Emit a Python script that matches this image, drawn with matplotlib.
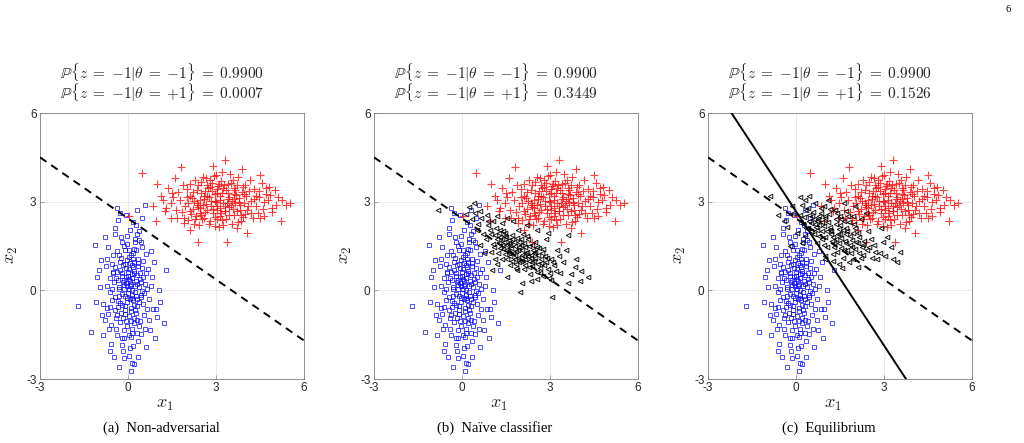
import numpy as np
import matplotlib.pyplot as plt

plt.rcParams['mathtext.fontset'] = 'cm'

# class theta=-1 samples (blue squares)
blue_pts = np.array([
    (-0.12, 0.35), (0.21, -0.48), (0.05, 1.12), (-0.38, 0.62), (0.44, -0.15), (-0.07, -1.03), (0.16, 0.78), (-0.55, -0.32),
    (0.31, 0.51), (-0.22, 1.64), (0.09, -0.71), (-0.41, -0.95), (0.58, 0.22), (0.02, 0.03), (-0.15, -1.62), (0.27, 1.38),
    (-0.63, 0.41), (0.12, -0.25), (0.36, -1.21), (-0.29, 0.12), (0.07, 2.05), (-0.09, 0.88), (0.49, 0.74), (-0.33, -0.58),
    (0.18, -1.88), (-0.71, 1.05), (0.25, 0.15), (-0.04, -0.39), (0.66, -0.62), (-0.46, 1.92), (0.13, 0.55), (-0.19, -0.11),
    (0.38, 1.71), (-0.58, -1.17), (0.03, -2.21), (0.52, 0.98), (-0.27, 0.69), (0.19, -0.92), (-0.11, 1.35), (0.72, -0.28),
    (-0.84, -0.45), (0.08, 0.31), (-0.35, 2.38), (0.29, -0.54), (-0.02, 1.58), (0.45, -1.48), (-0.24, -0.78), (0.14, 0.02),
    (-0.49, 0.27), (0.33, 0.91), (-0.14, -1.35), (0.61, 1.22), (-0.67, -0.81), (0.04, 0.71), (0.23, -0.05), (-0.31, 1.21),
    (0.11, -1.58), (-0.08, 0.46), (0.54, -0.84), (-0.43, -0.22), (0.26, 2.21), (-0.18, -2.05), (0.41, 0.38), (-0.76, 0.83),
    (0.06, -0.31), (-0.26, 0.95), (0.35, -1.72), (-0.05, 1.85), (0.82, 0.45), (-0.37, -1.51), (0.17, 1.05), (-0.61, -0.05),
    (0.28, -0.18), (-0.13, 0.18), (0.47, 1.48), (-0.52, 0.58), (0.02, -0.88), (0.39, -0.41), (-0.21, -1.85), (0.15, 0.42),
    (-0.95, 0.12), (0.64, 0.05), (-0.06, 2.55), (0.22, -1.12), (-0.44, -0.66), (0.31, 1.91), (-0.17, 0.28), (0.09, -0.59),
    (-0.34, -0.37), (0.57, -1.31), (-0.02, 1.02), (0.19, 0.65), (-0.69, 1.48), (0.44, 0.28), (-0.28, -1.08), (0.12, -2.45),
    (0.85, -0.62), (-0.45, 0.78), (0.07, 0.16), (-0.11, -0.52), (0.34, 0.82), (-0.58, -1.82), (0.24, 1.62), (-0.03, -1.21),
    (0.48, -0.02), (-0.22, 0.49), (0.13, -1.45), (-0.8, -1.02), (0.37, 2.01), (-0.09, -0.18), (0.69, 0.71), (-0.39, 1.32),
    (0.01, 0.62), (0.26, -0.75), (-0.53, 0.05), (0.16, 1.28), (-0.16, -0.95), (0.43, -0.22), (-0.72, -0.61), (0.08, 0.92),
    (-1.7, -0.52), (1.28, 0.68), (1.22, -1.12), (0.1, -2.72), (0.58, 2.88), (0.32, 2.72), (-1.12, 1.52), (-1.25, -1.42),
    (0.92, -1.62), (-0.28, 2.61), (-0.48, -2.25), (0.78, 1.32), (-1.05, 0.45), (1.05, 0.02), (-0.85, -1.52), (0.35, -2.25),
    (-0.38, 2.8), (0.95, -0.62), (-0.92, 1.02), (0.62, -1.92), (-0.62, -2.05), (1.08, -0.38), (0.2, -2.5), (-1.08, -0.38),
    (0.04, 0.38), (-0.32, 0.04), (0.18, -0.32), (-0.07, 0.75), (0.29, 0.21), (-0.2, -0.48), (0.11, 1.18), (-0.42, 0.42),
    (0.22, 0.58), (-0.1, -0.68), (0.5, 0.45), (-0.25, 1.1), (0.0, -0.1), (0.3, -1.0), (-0.55, 0.9), (0.15, -1.3),
    (0.1, 0.2), (-0.2, 0.6), (0.3, -0.3), (-0.1, -0.8), (0.2, 1.4), (-0.3, -0.2), (0.4, 0.6), (-0.5, 1.2),
    (0.0, 0.5), (0.25, -0.65), (-0.15, 0.05), (0.35, 1.05), (-0.4, -1.3), (0.05, -1.5), (0.5, -0.45), (-0.25, 1.8),
    (0.12, 0.85), (-0.35, 0.35), (0.28, 0.32), (-0.05, -0.25), (0.42, -1.05), (-0.6, -0.55), (0.18, 2.3), (-0.12, 1.5),
    (0.6, 0.6), (-0.7, 0.15), (0.08, -1.95), (-0.22, -1.6), (0.45, 1.62), (-0.02, 0.15), (0.32, -1.45), (-0.45, 2.1),
    (0.15, -0.15), (-0.18, 0.85), (0.55, -0.08), (-0.38, -0.85), (0.05, 1.35), (0.22, 0.95), (-0.28, -0.42), (0.7, -1.0),
    (-0.08, 0.25), (0.38, 0.12), (-0.5, 0.62), (0.1, -1.05), (-0.15, -2.3), (0.48, 2.45), (-0.65, -1.3), (0.25, 1.75),
    (0.9, 0.95), (-0.9, -0.85), (0.75, -1.35), (-0.78, 1.8), (1.0, -0.9), (-1.0, 0.7), (0.8, 0.15), (-0.3, -2.6),
])

# class theta=+1 samples (red pluses)
red_pts = np.array([
    (3.12, 3.05), (2.45, 2.78), (3.68, 3.21), (2.91, 2.62), (3.35, 3.38), (2.18, 3.12), (3.82, 2.88), (2.72, 3.45),
    (4.21, 3.02), (1.95, 2.85), (3.05, 2.42), (3.51, 3.62), (2.58, 3.18), (4.48, 3.15), (2.33, 2.51), (3.24, 2.95),
    (1.72, 3.32), (3.92, 3.48), (2.84, 3.02), (3.61, 2.55), (2.05, 2.38), (4.05, 2.72), (3.18, 3.71), (2.66, 2.92),
    (1.45, 2.95), (3.45, 2.81), (4.62, 2.98), (2.38, 3.55), (3.02, 3.28), (3.78, 3.12), (2.12, 2.7), (4.31, 3.42),
    (2.95, 2.18), (3.28, 3.55), (1.88, 3.58), (2.52, 2.41), (4.85, 3.22), (3.65, 2.95), (2.78, 3.75), (3.98, 2.58),
    (1.25, 2.68), (3.42, 3.08), (2.62, 2.65), (4.15, 3.75), (2.25, 3.02), (3.85, 2.35), (3.15, 2.78), (2.48, 3.28),
    (5.05, 2.88), (2.88, 3.35), (3.55, 2.25), (1.62, 2.72), (3.72, 3.58), (2.35, 2.95), (4.42, 2.62), (3.08, 3.52),
    (2.02, 3.42), (3.32, 2.68), (4.72, 3.45), (2.75, 2.25), (3.88, 3.32), (1.55, 3.15), (2.92, 3.88), (4.25, 2.45),
    (3.48, 3.95), (2.15, 2.58), (3.95, 2.95), (2.68, 3.58), (5.25, 3.05), (3.22, 2.38), (1.92, 2.28), (4.58, 3.62),
    (2.55, 3.85), (3.62, 3.25), (1.35, 3.45), (3.05, 2.72), (4.02, 3.18), (2.42, 2.22), (3.38, 2.95), (4.92, 2.65),
    (0.48, 3.97), (0.05, 2.52), (2.4, 1.62), (3.38, 1.62), (3.3, 4.42), (1.82, 4.18), (5.52, 2.95), (5.2, 2.35),
    (1.0, 3.6), (0.85, 2.85), (0.95, 2.35), (2.9, 4.2), (3.9, 4.1), (4.05, 1.95), (2.1, 2.05), (5.4, 2.9),
    (2.82, 2.85), (3.15, 3.18), (2.6, 3.1), (3.55, 3.02), (2.98, 3.02), (3.3, 2.85), (2.7, 2.72), (3.4, 3.3),
    (1.12, 3.2), (4.65, 2.52), (3.75, 3.85), (2.28, 3.72), (4.35, 2.85), (1.68, 2.45), (3.1, 2.15), (2.85, 3.62),
    (3.58, 2.75), (2.2, 3.32), (4.12, 3.35), (2.5, 2.55), (3.02, 3.42), (3.92, 2.48), (1.78, 3.05), (4.78, 3.05),
    (2.38, 2.82), (3.25, 3.45), (2.95, 2.48), (3.65, 3.4), (2.12, 3.2), (4.28, 3.08), (2.62, 3.35), (3.45, 2.55),
    (1.45, 2.45), (3.82, 2.72), (2.75, 3.15), (4.45, 3.35), (2.05, 2.95), (3.18, 2.6), (3.58, 3.75), (2.45, 3.05),
    (5.0, 3.4), (1.2, 3.05), (2.3, 2.4), (4.9, 2.8), (3.0, 3.9), (3.7, 2.1), (1.6, 3.8), (4.5, 3.9),
    (3.0, 3.0), (2.7, 3.2), (3.3, 2.7), (3.6, 3.1), (2.4, 2.9), (3.2, 3.3), (2.9, 2.75), (3.5, 2.9),
    (2.6, 2.45), (3.8, 3.0), (2.2, 2.75), (4.1, 2.85), (3.1, 3.6), (2.8, 2.35), (3.95, 3.25), (2.35, 3.4),
    (3.45, 3.15), (2.55, 2.9), (3.15, 2.5), (4.35, 3.2), (1.85, 2.65), (3.7, 2.7), (2.95, 3.25), (4.6, 2.75),
    (2.0, 3.15), (3.25, 2.2), (4.0, 3.55), (2.65, 3.8), (3.85, 2.55), (1.5, 3.3), (4.7, 3.25), (3.4, 3.6),
    (2.45, 2.6), (3.05, 2.85), (3.6, 3.45), (2.25, 2.25), (4.2, 2.6), (2.8, 3.5), (3.35, 2.4), (5.1, 3.15),
    (1.3, 2.8), (4.5, 2.45), (2.1, 3.6), (3.75, 2.3), (2.5, 3.65), (4.8, 3.5), (1.9, 2.45), (3.2, 4.0),
])

# adversarially modified samples, naive classifier (black triangles)
adv_naive = np.array([
    (1.85, 1.32), (1.42, 1.65), (2.35, 1.08), (1.12, 1.88), (2.68, 0.92), (1.65, 1.15), (2.15, 1.45), (0.95, 2.05),
    (2.92, 0.72), (1.55, 1.52), (2.45, 1.28), (1.28, 1.42), (3.15, 0.85), (1.95, 0.95), (2.25, 1.72), (0.82, 1.75),
    (2.55, 0.62), (1.72, 1.88), (2.05, 1.18), (1.38, 1.05), (2.82, 1.15), (1.05, 1.58), (2.38, 0.82), (1.78, 1.62),
    (3.35, 0.58), (1.48, 1.95), (2.12, 0.72), (1.22, 1.25), (2.62, 1.42), (0.88, 2.22), (1.92, 1.38), (2.75, 0.48),
    (1.62, 0.85), (2.48, 1.62), (1.15, 2.12), (3.05, 1.05), (1.82, 1.05), (2.28, 0.98), (1.35, 1.72), (2.95, 0.42),
    (0.72, 1.92), (2.02, 1.55), (1.58, 1.32), (2.65, 0.75), (1.25, 1.95), (3.45, 0.95), (1.88, 0.68), (2.18, 1.25),
    (0.65, 2.45), (0.45, 2.62), (0.25, 2.82), (0.85, 2.55), (1.05, 2.35), (0.55, 2.25), (1.35, 2.28), (0.35, 2.42),
    (-0.82, 2.72), (1.98, -0.05), (3.08, -0.22), (4.28, 0.45), (3.62, 1.88), (3.72, 0.55), (4.05, 0.65), (3.88, 1.05),
    (1.02, 0.68), (2.55, 2.05), (3.25, 1.35), (1.75, 2.35), (2.85, 1.72), (0.62, 1.55), (3.55, 1.35), (1.55, 0.45),
    (2.08, 1.92), (1.68, 1.42), (2.42, 1.38), (1.45, 1.22), (2.32, 0.55), (1.12, 1.05), (2.72, 1.25), (1.88, 1.78),
    (2.0, 1.0), (1.6, 1.6), (2.5, 1.1), (1.3, 1.8), (2.2, 1.3), (1.8, 1.2), (2.6, 0.9), (1.4, 1.4),
    (4.02, 0.32), (2.05, 0.25), (3.02, 0.35), (1.18, 0.88), (3.85, 0.78), (0.52, 2.05), (2.92, 1.95), (3.32, 1.15),
    (0.12, 2.58), (0.42, 2.95), (1.52, 2.45), (2.2, 2.2), (0.75, 1.25), (3.6, 0.25), (2.35, 0.3), (1.9, 2.05),
    (1.7, 1.0), (2.1, 1.6), (1.5, 1.8), (2.4, 0.95), (1.95, 1.45), (2.7, 1.05), (1.25, 1.6), (2.3, 1.5),
    (3.0, 0.6), (1.0, 1.9), (2.85, 0.95), (1.6, 1.25), (2.15, 0.85), (1.4, 2.0), (2.55, 1.45), (1.85, 0.9),
    (1.75, 1.25), (2.05, 1.35), (1.65, 1.55), (2.25, 1.15), (1.95, 1.65), (2.45, 1.0), (1.5, 1.35), (2.15, 1.05),
    (1.8, 1.5), (2.35, 1.2), (1.35, 1.55), (2.6, 1.2), (1.55, 1.05), (2.0, 1.75), (2.8, 0.85), (1.2, 1.75),
    (1.9, 1.1), (2.5, 1.3), (1.45, 1.85), (2.3, 0.8), (1.7, 1.75), (2.9, 1.1), (1.1, 1.45), (2.65, 0.6),
    (2.1, 1.15), (1.6, 1.7), (2.4, 1.55), (1.3, 2.05), (2.75, 1.4), (3.1, 0.95), (1.85, 0.75), (2.2, 1.85),
    (0.9, 2.35), (0.6, 2.7), (1.2, 2.5), (3.2, 0.65), (2.55, 0.4), (1.0, 1.3),
])

# adversarially modified samples at equilibrium (black triangles)
adv_eq = np.array([
    (1.15, 2.05), (0.72, 2.35), (1.55, 1.78), (0.45, 2.55), (1.85, 1.52), (0.95, 2.18), (1.38, 2.42), (0.62, 1.92),
    (1.72, 2.12), (0.35, 2.72), (2.05, 1.62), (1.22, 1.68), (0.85, 2.62), (1.62, 2.35), (0.52, 2.28), (1.95, 1.95),
    (1.05, 1.45), (1.45, 2.08), (0.28, 2.48), (2.25, 1.45), (0.78, 1.85), (1.32, 2.72), (1.88, 1.25), (0.58, 2.65),
    (1.68, 1.68), (0.98, 2.45), (2.15, 1.82), (0.42, 2.12), (1.25, 1.22), (1.78, 2.52), (0.68, 2.15), (2.42, 1.35),
    (1.52, 1.42), (0.88, 1.72), (1.98, 2.25), (0.15, 2.55), (1.42, 1.92), (2.32, 1.68), (0.75, 2.42), (1.12, 2.58),
    (-0.89, 3.19), (0.12, 3.16), (0.3, 3.05), (3.45, 0.96), (1.58, 0.75), (2.1, 0.8), (2.0, 2.85), (2.4, 2.6),
    (2.65, 1.52), (2.85, 1.25), (3.05, 1.15), (3.25, 1.45), (2.75, 1.05), (3.3, 1.05), (2.55, 1.75), (2.95, 1.65),
    (-0.3, 2.15), (-0.1, 2.6), (-0.42, 2.35), (0.05, 1.95), (-0.2, 1.5), (0.2, 1.6), (-0.15, 2.85), (0.45, 3.2),
    (1.25, 1.0), (1.82, 0.95), (2.2, 1.1), (1.0, 1.15), (1.45, 0.9), (1.65, 2.95), (2.2, 2.4), (0.65, 2.95),
    (1.2, 1.9), (0.9, 2.0), (1.5, 2.2), (1.7, 1.9), (1.0, 1.8), (1.3, 1.6), (0.6, 2.4), (1.8, 2.3),
    (1.4, 2.6), (1.1, 2.3), (2.0, 1.4), (0.8, 2.2), (1.6, 1.1), (1.9, 1.7), (0.5, 2.0), (1.35, 1.75),
    (2.45, 2.0), (3.55, 1.3), (3.1, 1.8), (2.9, 2.1), (1.1, 3.05), (0.95, 2.85), (0.25, 2.25), (-0.6, 2.55),
    (1.75, 1.35), (2.1, 1.95), (0.7, 1.6), (1.5, 2.5), (1.15, 2.15), (0.4, 2.8), (2.3, 1.2), (1.95, 1.05),
    (1.2, 2.0), (0.9, 2.3), (1.5, 1.9), (1.0, 2.5), (1.7, 1.6), (0.7, 2.05), (1.35, 2.25), (1.6, 2.05),
    (0.8, 2.5), (1.25, 1.8), (1.9, 1.45), (0.55, 2.5), (1.45, 1.6), (1.05, 2.0), (2.1, 1.6), (0.65, 2.25),
    (1.55, 2.4), (1.3, 1.45), (0.95, 1.55), (1.75, 2.0), (2.3, 1.55), (0.45, 2.35), (1.15, 2.75), (1.85, 1.85),
    (2.0, 2.1), (0.35, 2.1), (1.65, 1.35), (2.5, 1.45), (0.85, 2.8), (1.4, 1.3), (2.7, 1.3), (0.2, 2.9),
    (1.95, 2.5), (1.0, 1.05), (2.15, 1.25), (0.3, 1.85), (1.7, 2.7), (2.6, 1.1),
])

# decision boundaries (x, y endpoints)
dashed_x = [-3, 6]
dashed_y = [4.5, -1.7]
solid_x = [-2.2, 3.75]
solid_y = [6, -3]

p_neg = ['0.9900', '0.9900', '0.9900']
p_pos = ['0.0007', '0.3449', '0.1526']
captions = ['(a)  Non-adversarial', '(b)  Naïve classifier', '(c)  Equilibrium']
ticks = [-3, 0, 3, 6]

W, H = 1024, 443
fig = plt.figure(figsize=(W / 100, H / 100), dpi=100)

lefts = [40, 374, 708]
for i, lp in enumerate(lefts):
    ax = fig.add_axes([lp / W, (H - 379) / H, 264 / W, 266 / H])
    ax.plot(blue_pts[:, 0], blue_pts[:, 1], 's', mfc='none', mec='blue',
            ms=3.2, mew=0.7, alpha=0.7, zorder=3)
    ax.plot(red_pts[:, 0], red_pts[:, 1], '+', color='red',
            ms=5.5, mew=0.8, alpha=0.75, zorder=3)
    if i == 1:
        ax.plot(adv_naive[:, 0], adv_naive[:, 1], '<', mfc='none', mec='black',
                ms=3.3, mew=0.7, alpha=0.9, zorder=3)
    if i == 2:
        ax.plot(adv_eq[:, 0], adv_eq[:, 1], '<', mfc='none', mec='black',
                ms=3.3, mew=0.7, alpha=0.9, zorder=3)
        ax.plot(solid_x, solid_y, '-', color='black', lw=1.4, zorder=4)
    ax.plot(dashed_x, dashed_y, '--', color='black', lw=1.4, dashes=(4, 3), zorder=4)

    ax.set_xlim(-3, 6)
    ax.set_ylim(-3, 6)
    ax.set_xticks(ticks)
    ax.set_yticks(ticks)
    ax.set_xticklabels([str(t) for t in ticks], family='Liberation Sans')
    ax.set_yticklabels([str(t) for t in ticks], family='Liberation Sans')
    ax.tick_params(direction='in', length=3, width=0.5, colors='#808080',
                   labelsize=8.5, pad=2.5, labelcolor='#262626')
    ax.grid(True, color='#e6e6e6', lw=0.6)
    ax.set_axisbelow(True)
    for s in ax.spines.values():
        s.set_color('#808080')
        s.set_linewidth(0.6)

    cx = (lp + 132) / W
    title = (r'$\mathbb{P}\{z\;=\;{-1}|\theta\;=\;{-1}\}\;=\;%s$' % p_neg[i] + '\n' +
             r'$\mathbb{P}\{z\;=\;{-1}|\theta\;=\;{+1}\}\;=\;%s$' % p_pos[i])
    fig.text(cx - 10 / W, 1 - 83 / H, title, ha='center', va='center',
             fontsize=11, linespacing=0.85, color='#262626')
    fig.text(cx - 7 / W, 1 - 404 / H, r'$x_1$', ha='center', va='center',
             fontsize=13, color='#262626')
    fig.text((lp - 29) / W, 1 - 255 / H, r'$x_2$', ha='center', va='center',
             fontsize=13, rotation=90, color='#262626')
    fig.text(cx - 11 / W, 1 - 428 / H, captions[i], ha='center', va='center',
             fontsize=10.5, family='Liberation Serif')

fig.text(1008 / W, 1 - 9 / H, '6', ha='center', va='center', fontsize=7.5,
         family='Liberation Serif')

fig.savefig('out.png', dpi=100)
